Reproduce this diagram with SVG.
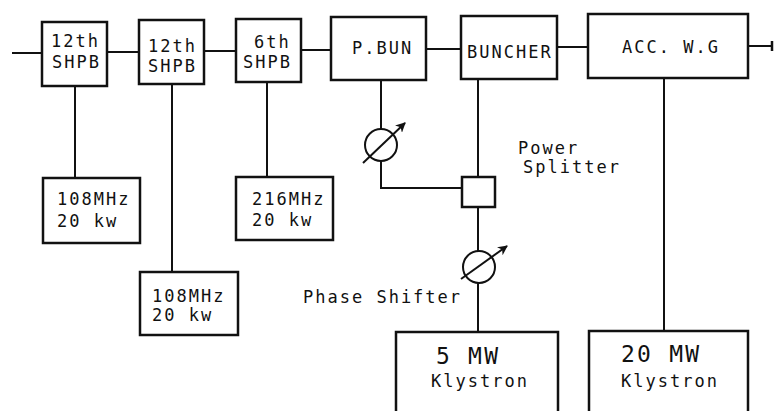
<svg xmlns="http://www.w3.org/2000/svg" width="783" height="411" viewBox="0 0 783 411">
<style>
.box{fill:none;stroke:#111;stroke-width:2.5}
.ln{fill:none;stroke:#111;stroke-width:2}
.t{font-family:"DejaVu Sans Mono","Liberation Mono",monospace;font-size:17px;letter-spacing:2px;fill:#111}
.big{font-family:"DejaVu Sans Mono","Liberation Mono",monospace;font-size:23px;letter-spacing:2.2px;fill:#111}
</style>
<defs>
<marker id="ah" viewBox="0 0 10 10" refX="9" refY="5" markerWidth="5" markerHeight="5" orient="auto" markerUnits="strokeWidth">
<path d="M0,0 L10,5 L0,10 L3,5 Z" fill="#111"/>
</marker>
</defs>
<rect width="783" height="411" fill="#fff"/>
<g id="connectors">
<path class="ln" d="M12,53 H42"/>
<path class="ln" d="M107,52 H139"/>
<path class="ln" d="M204,51 H236"/>
<path class="ln" d="M301,50 H331"/>
<path class="ln" d="M426,49 H461"/>
<path class="ln" d="M557,47 H588"/>
<path class="ln" d="M748,46 H772"/>
<path class="ln" d="M772,41 V51" style="stroke-width:2.5"/>
<path class="ln" d="M75,86 V178"/>
<path class="ln" d="M172,84 V272"/>
<path class="ln" d="M267,82 V177"/>
<path class="ln" d="M381,80 V129"/>
<path class="ln" d="M381,161 V188 H462"/>
<path class="ln" d="M478,79 V177"/>
<path class="ln" d="M478,207 V251"/>
<path class="ln" d="M478,283 V332"/>
<path class="ln" d="M664,78 V331"/>
</g>
<g id="shpb1"><rect class="box" x="42" y="22" width="65" height="64"/><text class="t" x="51" y="47">12th</text><text class="t" x="52" y="68">SHPB</text></g>
<g id="shpb2"><rect class="box" x="139" y="20" width="65" height="64"/><text class="t" x="148" y="52">12th</text><text class="t" x="148" y="72">SHPB</text></g>
<g id="shpb3"><rect class="box" x="236" y="19" width="65" height="63"/><text class="t" x="254" y="48">6th</text><text class="t" x="243" y="68">SHPB</text></g>
<g id="pbun"><rect class="box" x="331" y="17" width="95" height="63"/><text class="t" x="352" y="54">P.BUN</text></g>
<g id="buncher"><rect class="box" x="461" y="16" width="96" height="63"/><text class="t" x="467" y="58">BUNCHER</text></g>
<g id="accwg"><rect class="box" x="588" y="14" width="160" height="64"/><text class="t" x="622" y="53">ACC. W.G</text></g>
<g id="src1"><rect class="box" x="43" y="178" width="97" height="65"/><text class="t" x="57" y="205">108MHz</text><text class="t" x="57" y="227">20 kw</text></g>
<g id="src2"><rect class="box" x="140" y="272" width="98" height="63"/><text class="t" x="152" y="302">108MHz</text><text class="t" x="152" y="321">20 kw</text></g>
<g id="src3"><rect class="box" x="236" y="177" width="97" height="63"/><text class="t" x="252" y="205">216MHz</text><text class="t" x="252" y="226">20 kw</text></g>
<g id="splitter"><rect class="box" x="462" y="177" width="33" height="30"/><text class="t" x="518" y="154">Power</text><text class="t" x="523" y="173">Splitter</text></g>
<g id="phase1"><circle class="ln" cx="381" cy="145" r="16"/><path class="ln" d="M363,163 L405,123" marker-end="url(#ah)"/></g>
<g id="phase2"><circle class="ln" cx="479" cy="267" r="16"/><path class="ln" d="M461,279 L507,246" marker-end="url(#ah)"/><text class="t" x="303" y="303">Phase Shifter</text></g>
<g id="klystron5"><path class="box" d="M396,420 V332 H558 V420"/><text class="big" x="436" y="364">5 MW</text><text class="t" x="431" y="387">Klystron</text></g>
<g id="klystron20"><path class="box" d="M589,420 V331 H748 V420"/><text class="big" x="621" y="362">20 MW</text><text class="t" x="621" y="387">Klystron</text></g>
</svg>
